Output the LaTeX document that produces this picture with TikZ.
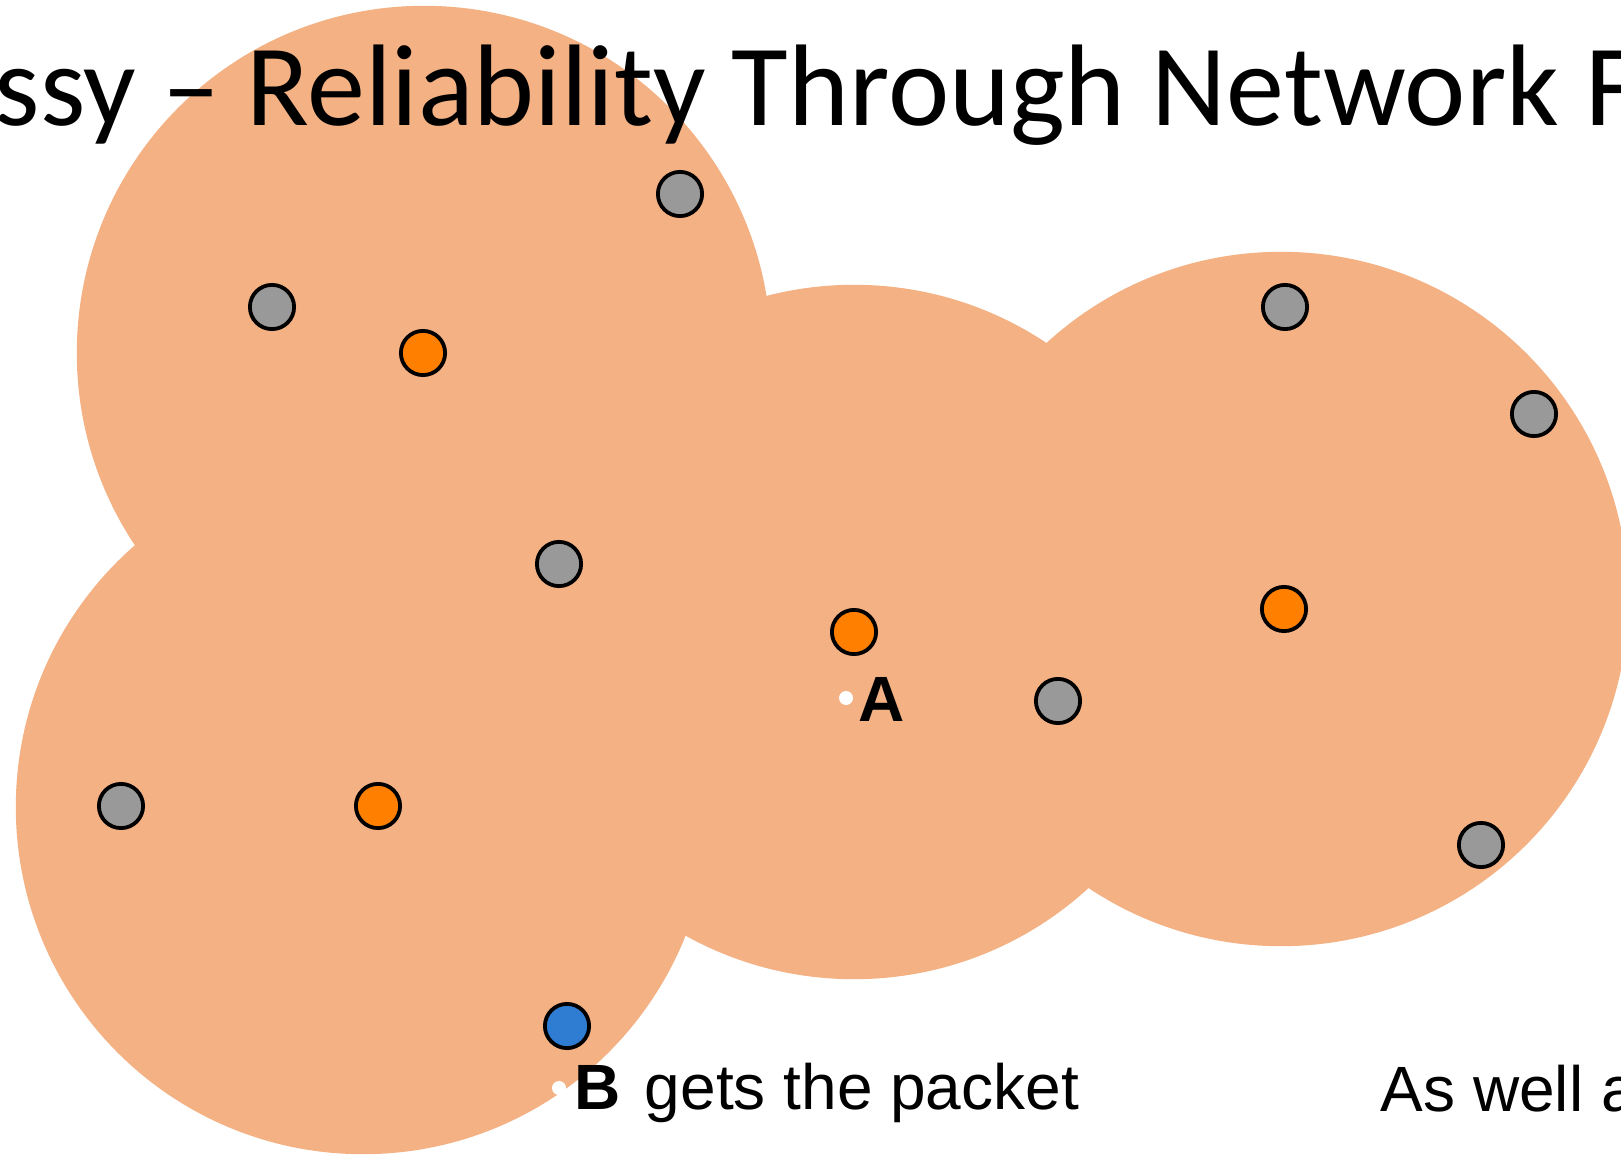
\documentclass[tikz,border=0pt]{standalone}
\usepackage{fontspec}
\setmainfont{Liberation Sans}
\newfontfamily\titlefont{Carlito}
\definecolor{lobe}{HTML}{F4B183}
\definecolor{nodegray}{HTML}{999999}
\definecolor{nodeorange}{HTML}{FF8000}
\definecolor{nodeblue}{HTML}{2E7DD2}

\begin{document}
\begin{tikzpicture}[x=0.01cm, y=-0.01cm,
  mote/.style={circle, draw=black, line width=1.08pt, minimum size=0.442cm, inner sep=0pt},
  idle/.style={mote, fill=nodegray},
  relay/.style={mote, fill=nodeorange},
  dest/.style={mote, fill=nodeblue},
  spot/.style={circle, fill=white, minimum size=0.14cm, inner sep=0pt},
  lbl/.style={anchor=base west, inner sep=0pt, font=\fontsize{18.2}{22}\selectfont}]

\useasboundingbox (0,0) rectangle (1621,1158);
\clip (0,0) rectangle (1621,1158);
\fill[white] (0,0) rectangle (1621,1158);

% Radio ranges
\fill[lobe] (424,353) circle (3.47cm);
\fill[lobe] (854,632) circle (3.47cm);
\fill[lobe] (363,807) circle (3.47cm);
\fill[lobe] (1281,599) circle (3.47cm);

% Title
\node[anchor=base west, inner sep=0pt, font=\titlefont\fontsize{33}{38}\selectfont]
  (title) at (-6,126) {ssy – Reliability Through Network F};

% Idle nodes
\node[idle] (g1) at (680,194) {};
\node[idle] (g2) at (272,307) {};
\node[idle] (g3) at (559,564) {};
\node[idle] (g4) at (121,806) {};
\node[idle] (g5) at (1058,701) {};
\node[idle] (g6) at (1285,307) {};
\node[idle] (g7) at (1534,414) {};
\node[idle] (g8) at (1481,845) {};

% Relaying nodes
\node[relay] (r1) at (423,353) {};
\node[relay] (r2) at (854,632) {};
\node[relay] (r3) at (1284,609) {};
\node[relay] (r4) at (378,806) {};

% Receiver
\node[dest] (recv) at (567,1026) {};

% Source A and target B
\node[spot] (ptA) at (846,698) {};
\node[lbl, font=\fontsize{18.2}{22}\selectfont\bfseries] (labA) at (858,721) {A};
\node[spot] (ptB) at (559,1088) {};
\node[lbl] (labB) at (574,1109) {\textbf{B}\hspace{0.375em}gets the packet};

\node[lbl] (also) at (1380,1111) {As well a};

\end{tikzpicture}
\end{document}
